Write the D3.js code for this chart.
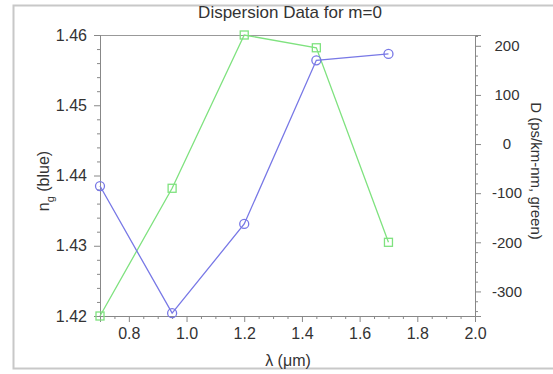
<!DOCTYPE html>
<html>
  <head>
    <meta charset="utf-8"/>
    <script src="https://cdn.jsdelivr.net/npm/d3@7"></script>
    <style>
      body { margin: 0; background: #fff; }
      text { font-family: Arial, "Liberation Sans", sans-serif; fill: #333; }
    </style>
  </head>
  <body>
    <svg id="target"></svg>
  </body>
  <script>
    var lambda = [0.7, 0.95, 1.2, 1.45, 1.7];
    var ngBlue = [1.4385, 1.4204, 1.4331, 1.4564, 1.4573];
    var dGreen = [-350, -90, 222, 196, -200];
    var xTicks = [0.8, 1.0, 1.2, 1.4, 1.6, 1.8, 2.0];
    var leftTicks = [1.42, 1.43, 1.44, 1.45, 1.46];
    var rightTicks = [-300, -200, -100, 0, 100, 200];

    var width = 553, height = 374;
    var x0 = 100, x1 = 475, y0 = 35, y1 = 316;
    var svg = d3.select( "#target" ).attr( "width", width ).attr( "height", height );

    var xScale = d3.scaleLinear().domain( [0.7, 2.0] ).range( [x0, x1] );
    var yLeft = d3.scaleLinear().domain( [1.42, 1.46] ).range( [y1, y0] );
    var yRight = d3.scaleLinear().domain( d3.extent( dGreen ) ).range( [y1, y0] );

    // outer frame
    svg.append( "rect" ).attr( "x", 13.5 ).attr( "y", 5.5 ).attr( "width", 545 ).attr( "height", 363 )
      .attr( "fill", "none" ).attr( "stroke", "#c8c8c8" ).attr( "stroke-width", 2 );

    // plot box top line
    svg.append( "line" ).attr( "x1", x0 ).attr( "x2", x1 ).attr( "y1", y0 + 0.5 ).attr( "y2", y0 + 0.5 )
      .attr( "stroke", "#999" );

    function styleAxis( g ) {
      g.select( ".domain" ).attr( "stroke", "#888" );
      g.selectAll( ".tick line" ).attr( "stroke", "#888" );
      g.selectAll( ".tick text" ).attr( "fill", "#333" ).attr( "font-size", 16 )
        .attr( "font-family", "Arial, 'Liberation Sans', sans-serif" );
    }

    // minor ticks
    var xMinor = d3.range( 0.75, 2.0, 0.05 ).filter( v => Math.abs( v * 10 - Math.round( v * 10 ) ) > 0.01 || Math.round( v * 10 ) % 2 == 1 );
    svg.append( "g" ).attr( "transform", "translate(0," + y1 + ")" )
      .call( d3.axisBottom( xScale ).tickValues( xMinor ).tickSize( 3 ).tickFormat( "" ) )
      .call( styleAxis );
    svg.append( "g" ).attr( "transform", "translate(" + x0 + ",0)" )
      .call( d3.axisLeft( yLeft ).tickValues( d3.range( 1.422, 1.46, 0.002 ).filter( v => Math.abs( v * 100 - Math.round( v * 100 ) ) > 0.05 ) ).tickSize( 3 ).tickFormat( "" ) )
      .call( styleAxis );
    svg.append( "g" ).attr( "transform", "translate(" + x1 + ",0)" )
      .call( d3.axisRight( yRight ).tickValues( d3.range( -340, 222, 20 ).filter( v => v % 100 != 0 ) ).tickSize( 3 ).tickFormat( "" ) )
      .call( styleAxis );

    // major axes
    svg.append( "g" ).attr( "transform", "translate(0," + y1 + ")" )
      .call( d3.axisBottom( xScale ).tickValues( xTicks ).tickSize( 6 ).tickPadding( 6 ).tickFormat( d3.format( ".1f" ) ) )
      .call( styleAxis );
    svg.append( "g" ).attr( "transform", "translate(" + x0 + ",0)" )
      .call( d3.axisLeft( yLeft ).tickValues( leftTicks ).tickSize( 6 ).tickPadding( 7 ).tickFormat( d3.format( ".2f" ) ) )
      .call( styleAxis );
    svg.append( "g" ).attr( "transform", "translate(" + x1 + ",0)" )
      .call( d3.axisRight( yRight ).tickValues( rightTicks ).tickSize( 6 ).tickPadding( 26 ).tickFormat( d => String( d ) ) )
      .call( styleAxis )
      .call( g => g.selectAll( ".tick text" ).attr( "text-anchor", "middle" ).attr( "font-size", 15 ) );

    // green series
    var greenData = lambda.map( ( l, i ) => [l, dGreen[i]] );
    svg.append( "path" ).datum( greenData )
      .attr( "fill", "none" ).attr( "stroke", "#7fe27f" ).attr( "stroke-width", 1.3 )
      .attr( "d", d3.line().x( d => xScale( d[0] ) ).y( d => yRight( d[1] ) ) );
    svg.selectAll( "rect.sq" ).data( greenData )
      .enter().append( "rect" ).attr( "class", "sq" )
        .attr( "x", d => xScale( d[0] ) - 4 )
        .attr( "y", d => yRight( d[1] ) - 4 )
        .attr( "width", 8 ).attr( "height", 8 )
        .attr( "fill", "none" ).attr( "stroke", "#7fe27f" ).attr( "stroke-width", 1.3 );

    // blue series
    var blueData = lambda.map( ( l, i ) => [l, ngBlue[i]] );
    svg.append( "path" ).datum( blueData )
      .attr( "fill", "none" ).attr( "stroke", "#7878e6" ).attr( "stroke-width", 1.3 )
      .attr( "d", d3.line().x( d => xScale( d[0] ) ).y( d => yLeft( d[1] ) ) );
    svg.selectAll( "circle" ).data( blueData )
      .enter().append( "circle" )
        .attr( "cx", d => xScale( d[0] ) )
        .attr( "cy", d => yLeft( d[1] ) )
        .attr( "r", 4.5 )
        .attr( "fill", "none" ).attr( "stroke", "#7878e6" ).attr( "stroke-width", 1.3 );

    // titles
    svg.append( "text" ).attr( "x", 290 ).attr( "y", 18 ).attr( "text-anchor", "middle" )
      .attr( "font-size", 17 ).text( "Dispersion Data for m=0" );
    svg.append( "text" ).attr( "x", 288 ).attr( "y", 366 ).attr( "text-anchor", "middle" )
      .attr( "font-size", 16 ).text( "λ (μm)" );
    var yl = svg.append( "text" ).attr( "transform", "translate(49,181) rotate(-90)" ).attr( "text-anchor", "middle" )
      .attr( "font-size", 16 );
    yl.append( "tspan" ).text( "n" );
    yl.append( "tspan" ).attr( "font-size", 11 ).attr( "dy", 5 ).text( "g" );
    yl.append( "tspan" ).attr( "dy", -5 ).text( " (blue)" );
    svg.append( "text" ).attr( "transform", "translate(531,171) rotate(90)" ).attr( "text-anchor", "middle" )
      .attr( "font-size", 15 ).text( "D (ps/km-nm, green)" );
  </script>
</html>
